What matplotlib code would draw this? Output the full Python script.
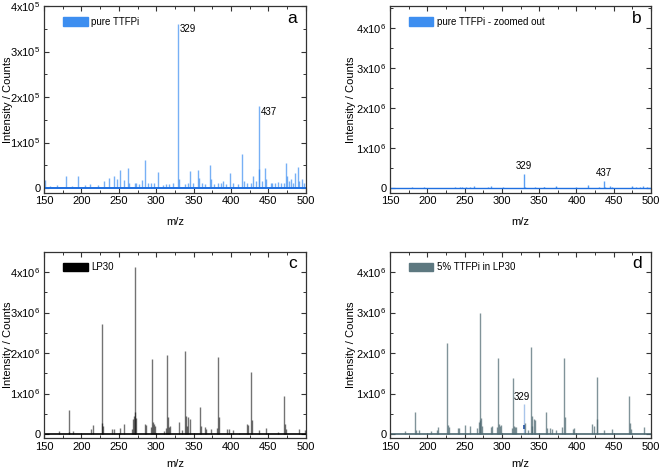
import numpy as np
import matplotlib.pyplot as plt
from matplotlib.patches import Patch
from matplotlib.ticker import FuncFormatter, MultipleLocator

plt.rcParams['font.family'] = ['Liberation Sans', 'DejaVu Sans']
plt.rcParams['mathtext.fontset'] = 'custom'
plt.rcParams['mathtext.rm'] = 'Liberation Sans'
plt.rcParams['mathtext.it'] = 'Liberation Sans:italic'

# pure TTFPi spectrum (m/z, counts)
ttfpi_mz = [151, 158, 167, 179, 187, 196, 205, 211, 222, 230, 237, 244, 247, 252, 257,
            262, 263, 271, 273, 277, 281, 285, 289, 293, 297, 302, 309, 313, 317, 323,
            329, 331, 339, 343, 345, 349, 356, 357, 361, 365, 372, 373, 377, 383, 387,
            389, 393, 399, 403, 409, 415, 417, 421, 427, 430, 433, 437, 438, 441, 445,
            447, 453, 455, 459, 463, 467, 471, 474, 475, 477, 480, 483, 485, 489, 491,
            495, 497]
ttfpi_int = [1.7e4, 0.5e4, 0.7e4, 2.7e4, 0.5e4, 2.7e4, 0.7e4, 0.8e4, 0.6e4, 1.6e4, 2.1e4, 2.6e4,
             2.0e4, 4.0e4, 1.8e4, 4.5e4, 1.0e4, 1.0e4, 1.2e4, 0.8e4, 1.8e4, 6.2e4, 1.0e4, 1.0e4,
             1.0e4, 3.6e4, 0.6e4, 0.8e4, 0.8e4, 1.0e4, 3.6e5, 2.0e4, 0.8e4, 1.0e4, 3.8e4, 1.0e4,
             3.9e4, 2.2e4, 1.0e4, 0.8e4, 5.1e4, 2.0e4, 0.8e4, 1.2e4, 1.2e4, 1.5e4, 0.8e4, 3.2e4,
             1.0e4, 0.8e4, 7.4e4, 1.5e4, 1.0e4, 1.2e4, 2.7e4, 1.5e4, 1.8e5, 4.2e4, 1.5e4, 4.3e4,
             2.0e4, 1.0e4, 1.2e4, 1.0e4, 1.3e4, 1.0e4, 1.0e4, 5.4e4, 2.7e4, 1.5e4, 2.0e4, 1.2e4,
             3.4e4, 4.7e4, 1.5e4, 2.0e4, 1.0e4]

# LP30 spectrum
lp30_mz = [170, 183, 184, 189, 213, 215, 227, 228, 229, 241, 243, 251, 257, 267, 269,
           270, 271, 272, 273, 285, 287, 293, 295, 296, 297, 299, 311, 313, 315, 316,
           317, 319, 331, 335, 339, 340, 341, 343, 345, 359, 360, 365, 367, 373, 381,
           383, 384, 395, 397, 403, 411, 421, 423, 427, 428, 437, 447, 463, 471, 472,
           473, 491, 499]
lp30_int = [0.08e6, 0.59e6, 0.06e6, 0.08e6, 0.12e6, 0.22e6, 2.71e6, 0.27e6, 0.2e6, 0.13e6,
            0.13e6, 0.15e6, 0.25e6, 0.13e6, 0.38e6, 0.45e6, 4.12e6, 0.55e6, 0.4e6, 0.25e6,
            0.22e6, 0.17e6, 1.86e6, 0.3e6, 0.25e6, 0.2e6, 0.08e6, 0.15e6, 1.95e6, 0.42e6,
            0.17e6, 0.2e6, 0.3e6, 0.1e6, 2.05e6, 0.45e6, 0.2e6, 0.42e6, 0.38e6, 0.67e6,
            0.2e6, 0.18e6, 0.13e6, 0.12e6, 0.15e6, 1.91e6, 0.42e6, 0.12e6, 0.12e6, 0.1e6,
            0.03e6, 0.25e6, 0.22e6, 1.53e6, 0.35e6, 0.1e6, 0.15e6, 0.05e6, 0.95e6, 0.25e6,
            0.12e6, 0.13e6, 0.1e6]

# 5% TTFPi in LP30 spectrum
mix_mz = [170, 183, 185, 189, 205, 213, 215, 227, 228, 229, 241, 243, 251, 257, 267,
          269, 270, 271, 272, 273, 285, 287, 293, 295, 296, 297, 299, 313, 315, 316,
          317, 319, 331, 335, 339, 340, 341, 343, 345, 359, 361, 365, 367, 373, 381,
          383, 384, 395, 397, 421, 423, 427, 428, 437, 447, 471, 472, 473, 491]
mix_int = [0.07e6, 0.55e6, 0.1e6, 0.1e6, 0.08e6, 0.1e6, 0.18e6, 2.26e6, 0.22e6, 0.18e6,
           0.15e6, 0.15e6, 0.22e6, 0.2e6, 0.15e6, 0.3e6, 0.35e6, 3.0e6, 0.4e6, 0.2e6,
           0.18e6, 0.2e6, 0.18e6, 1.87e6, 0.25e6, 0.2e6, 0.22e6, 0.15e6, 1.39e6, 0.2e6,
           0.18e6, 0.18e6, 0.28e6, 0.1e6, 2.16e6, 0.45e6, 0.2e6, 0.38e6, 0.35e6, 0.54e6,
           0.15e6, 0.15e6, 0.12e6, 0.1e6, 0.18e6, 1.88e6, 0.42e6, 0.13e6, 0.15e6, 0.25e6,
           0.2e6, 1.42e6, 0.38e6, 0.1e6, 0.12e6, 0.95e6, 0.28e6, 0.12e6, 0.18e6]
mix_329_mz = [329]
mix_329_int = [0.74e6]


def sci_fmt(v, pos):
    if v == 0:
        return '0'
    e = int(np.floor(np.log10(abs(v)) + 1e-9))
    m = v / 10 ** e
    return r'$%d\mathrm{x}10^{%d}$' % (round(m), e)


def style_axes(ax, ystep, ylo, yhi, letter, ylab_x, xlab_y):
    ax.set_xlim(150, 500)
    ax.set_ylim(ylo, yhi)
    ax.xaxis.set_major_locator(MultipleLocator(50))
    ax.xaxis.set_minor_locator(MultipleLocator(25))
    ax.yaxis.set_major_locator(MultipleLocator(ystep))
    ax.yaxis.set_minor_locator(MultipleLocator(ystep / 2))
    ax.yaxis.set_major_formatter(FuncFormatter(sci_fmt))
    ax.tick_params(which='both', direction='in', top=True, right=True,
                   labelsize=8, color='#333333', pad=2.5)
    ax.tick_params(which='major', length=3.5, width=0.8)
    ax.tick_params(which='minor', length=2, width=0.7)
    for s in ax.spines.values():
        s.set_color('#333333')
        s.set_linewidth(0.9)
    ax.set_xlabel('m/z', fontsize=8)
    ax.set_ylabel('Intensity / Counts', fontsize=8, va='center')
    ax.yaxis.set_label_coords(ylab_x, 0.5)
    ax.xaxis.set_label_coords(0.5, xlab_y)
    ax.text(0.965, 0.935, letter, transform=ax.transAxes, fontsize=12.5,
            ha='right', va='center')


def add_legend(ax, label, color):
    ax.legend(handles=[Patch(facecolor=color, edgecolor=color)], labels=[label],
              loc='upper left', frameon=False, fontsize=7, handlelength=2.5,
              handleheight=1.0, handletextpad=0.4,
              bbox_to_anchor=(0.04, 0.99))


fig = plt.figure(figsize=(6.61, 4.69), dpi=100)
ax_a = fig.add_axes([0.0666, 0.5885, 0.396, 0.3985])
ax_b = fig.add_axes([0.590, 0.5885, 0.395, 0.3985])
ax_c = fig.add_axes([0.0666, 0.066, 0.396, 0.397])
ax_d = fig.add_axes([0.590, 0.066, 0.395, 0.397])

blue = '#2f86f0'
blue_dark = '#1f6fe0'

# a
ax_a.vlines(ttfpi_mz, 0, ttfpi_int, color=blue, lw=1.0, alpha=0.65)
ax_a.axhline(0, color=blue_dark, lw=1.4)
ax_a.text(331, 3.5e5, '329', fontsize=7, ha='left', va='center')
ax_a.text(439.5, 1.68e5, '437', fontsize=7, ha='left', va='center')
style_axes(ax_a, 1e5, -1.1e4, 4.0e5, 'a', -0.138, -0.13)
add_legend(ax_a, 'pure TTFPi', '#3d8ef0')

# b
ax_b.vlines(ttfpi_mz, 0, ttfpi_int, color=blue, lw=1.0, alpha=0.8)
ax_b.axhline(0, color=blue_dark, lw=1.0)
ax_b.text(329, 4.3e5, '329', fontsize=7, ha='center', va='bottom')
ax_b.text(437, 2.5e5, '437', fontsize=7, ha='center', va='bottom')
style_axes(ax_b, 1e6, -1.2e5, 4.55e6, 'b', -0.148, -0.13)
add_legend(ax_b, 'pure TTFPi - zoomed out', '#3d8ef0')

# c
ax_c.vlines(lp30_mz, 0, lp30_int, color='black', lw=1.0, alpha=0.55)
ax_c.axhline(0, color='black', lw=1.2)
style_axes(ax_c, 1e6, -1e5, 4.5e6, 'c', -0.138, -0.115)
add_legend(ax_c, 'LP30', 'black')

# d
slate = '#4a666e'
ax_d.vlines(mix_329_mz, 0, mix_329_int, color='#a9c5ea', lw=1.0)
ax_d.vlines(mix_329_mz, 0.12e6, 0.22e6, color='#1f4fa0', lw=1.2)
ax_d.vlines(mix_mz, 0, mix_int, color=slate, lw=1.0, alpha=0.7)
ax_d.axhline(0, color=slate, lw=1.2)
ax_d.text(327, 0.8e6, '329', fontsize=7, ha='center', va='bottom')
style_axes(ax_d, 1e6, -1e5, 4.5e6, 'd', -0.148, -0.115)
add_legend(ax_d, '5% TTFPi in LP30', '#5d7880')

fig.savefig('out.png', dpi=100)
